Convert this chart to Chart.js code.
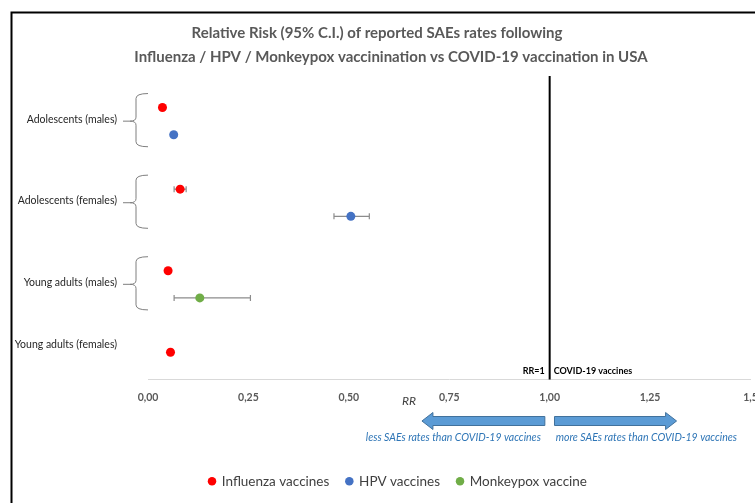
<!DOCTYPE html>
<html>
<head>
<meta charset="utf-8">
<script src="https://cdn.jsdelivr.net/npm/chart.js@4.4.1/dist/chart.umd.min.js"></script>
<style>
  html, body { margin: 0; padding: 0; background: #fff; }
  #wrap { position: relative; width: 755px; height: 503px; }
</style>
</head>
<body>
<div id="wrap"><canvas id="rrChart"></canvas></div>
<script>
const titleLines = [
    "Relative Risk (95% C.I.) of reported SAEs rates following",
    "Influenza / HPV / Monkeypox vaccinination vs COVID-19 vaccination in USA"
];
const groupLabels = ["Adolescents (males)", "Adolescents (females)", "Young adults (males)", "Young adults (females)"];

// RR point estimates and 95% C.I. per group (null = no estimate shown)
const influenzaRR   = [0.036, 0.080, 0.050, 0.056];
const influenzaLow  = [null, 0.065, null, null];
const influenzaHigh = [null, 0.095, null, null];
const hpvRR   = [0.064, 0.505, null, null];
const hpvLow  = [null, 0.463, null, null];
const hpvHigh = [null, 0.551, null, null];
const monkeypoxRR   = [null, null, 0.129, null];
const monkeypoxLow  = [null, null, 0.065, null];
const monkeypoxHigh = [null, null, 0.255, null];

const xTicks = [0, 0.25, 0.5, 0.75, 1, 1.25, 1.5];
const xTickLabels = ["0,00", "0,25", "0,50", "0,75", "1,00", "1,25", "1,5"];

const FONT = "Lato";

// each group takes 3 rows: influenza on the first, HPV / monkeypox on the second
const toPoints = (values, lows, highs, offset) => values
    .map((v, g) => v == null ? null : { x: v, y: g * 3 + offset, lo: lows[g], hi: highs[g] })
    .filter(Boolean);

const makeDataset = (label, color, points) => ({
    label,
    data: points,
    backgroundColor: color,
    borderColor: color,
    pointRadius: 4.5,
    pointHoverRadius: 4.5,
    borderWidth: 0,
});

const errorBars = {
    id: "errorBars",
    beforeDatasetsDraw(chart) {
        const { ctx, scales: { x, y } } = chart;
        ctx.save();
        ctx.strokeStyle = "#8c8c8c";
        ctx.lineWidth = 1.2;
        chart.data.datasets.forEach(ds => {
            ds.data.forEach(p => {
                if (p.lo == null) return;
                const py = y.getPixelForValue(p.y);
                const x0 = x.getPixelForValue(p.lo);
                const x1 = x.getPixelForValue(p.hi);
                ctx.beginPath();
                ctx.moveTo(x0, py); ctx.lineTo(x1, py);
                ctx.moveTo(x0, py - 3); ctx.lineTo(x0, py + 3);
                ctx.moveTo(x1, py - 3); ctx.lineTo(x1, py + 3);
                ctx.stroke();
            });
        });
        ctx.restore();
    }
};

const drawBrace = (ctx, xr, top, mid, bot) => {
    const xs = xr - 12;
    ctx.beginPath();
    ctx.moveTo(xr, top);
    ctx.quadraticCurveTo(xs, top, xs, top + 5);
    ctx.lineTo(xs, mid - 4);
    ctx.quadraticCurveTo(xs, mid, xs - 6, mid);
    ctx.lineTo(xs - 13, mid);
    ctx.moveTo(xs - 6, mid);
    ctx.quadraticCurveTo(xs, mid, xs, mid + 4);
    ctx.lineTo(xs, bot - 5);
    ctx.quadraticCurveTo(xs, bot, xr, bot);
    ctx.stroke();
};

const drawArrow = (ctx, tail, tip, cy) => {
    const dir = tip > tail ? 1 : -1;
    const neck = tip - dir * 11;
    ctx.beginPath();
    ctx.moveTo(tail, cy - 4.5);
    ctx.lineTo(neck, cy - 4.5);
    ctx.lineTo(neck, cy - 8.5);
    ctx.lineTo(tip, cy);
    ctx.lineTo(neck, cy + 8.5);
    ctx.lineTo(neck, cy + 4.5);
    ctx.lineTo(tail, cy + 4.5);
    ctx.closePath();
    ctx.fillStyle = "#5b9bd5";
    ctx.fill();
    ctx.strokeStyle = "#41719c";
    ctx.lineWidth = 1;
    ctx.stroke();
};

const decorations = {
    id: "decorations",
    afterDraw(chart) {
        const { ctx, chartArea, scales: { x, y } } = chart;
        ctx.save();

        // frame
        ctx.strokeStyle = "#000";
        ctx.lineWidth = 2;
        ctx.beginPath();
        ctx.moveTo(755, 12.5); ctx.lineTo(11.5, 12.5); ctx.lineTo(11.5, 503);
        ctx.stroke();

        // title
        ctx.fillStyle = "#595959";
        ctx.font = `bold 15px ${FONT}`;
        ctx.textAlign = "center";
        ctx.textBaseline = "middle";
        ctx.fillText(titleLines[0], 377, 33);
        ctx.fillText(titleLines[1], 391, 57);

        // RR = 1 reference line
        const x1 = x.getPixelForValue(1);
        ctx.strokeStyle = "#000";
        ctx.lineWidth = 2;
        ctx.beginPath();
        ctx.moveTo(x1, chartArea.top); ctx.lineTo(x1, chartArea.bottom);
        ctx.stroke();
        ctx.fillStyle = "#000";
        ctx.font = `bold 9px ${FONT}`;
        ctx.textAlign = "right";
        ctx.fillText("RR=1", x1 - 5, chartArea.bottom - 8);
        ctx.textAlign = "left";
        ctx.fillText("COVID-19 vaccines", x1 + 4, chartArea.bottom - 8);

        // group labels and braces
        ctx.strokeStyle = "#7f7f7f";
        ctx.lineWidth = 1;
        ctx.fillStyle = "#262626";
        ctx.font = `10.5px ${FONT}`;
        ctx.textAlign = "right";
        groupLabels.forEach((label, g) => {
            const first = y.getPixelForValue(g * 3);
            const second = y.getPixelForValue(g * 3 + 1);
            if (g < 3) {
                const mid = (first + second) / 2;
                drawBrace(ctx, chartArea.left, first - 14, mid, second + 12);
                ctx.fillText(label, chartArea.left - 31, mid - 2);
            } else {
                ctx.fillText(label, chartArea.left - 31, first - 8);
            }
        });

        // axis caption and direction arrows
        ctx.fillStyle = "#404040";
        ctx.font = `italic 12px ${FONT}`;
        ctx.textAlign = "center";
        ctx.fillText("RR", x.getPixelForValue(0.65), 401);

        drawArrow(ctx, x.getPixelForValue(0.988), x.getPixelForValue(0.682), 421);
        drawArrow(ctx, x.getPixelForValue(1.012), x.getPixelForValue(1.316), 421);

        ctx.fillStyle = "#2e75b6";
        ctx.font = `italic 10.5px ${FONT}`;
        ctx.textAlign = "right";
        ctx.fillText("less SAEs rates than COVID-19 vaccines", x.getPixelForValue(0.978), 438);
        ctx.textAlign = "left";
        ctx.fillText("more SAEs rates than COVID-19 vaccines", x.getPixelForValue(1.015), 438);

        ctx.restore();
    }
};

new Chart(document.getElementById("rrChart"), {
    type: "scatter",
    data: {
        datasets: [
            makeDataset("Influenza vaccines", "#ff0000", toPoints(influenzaRR, influenzaLow, influenzaHigh, 0)),
            makeDataset("HPV vaccines", "#4472c4", toPoints(hpvRR, hpvLow, hpvHigh, 1)),
            makeDataset("Monkeypox vaccine", "#70ad47", toPoints(monkeypoxRR, monkeypoxLow, monkeypoxHigh, 1)),
        ]
    },
    options: {
        responsive: true,
        maintainAspectRatio: false,
        animation: false,
        events: [],
        layout: { padding: { top: 76, left: 45, right: 4, bottom: 5 } },
        scales: {
            x: {
                min: 0,
                max: 1.5,
                grid: { display: false, drawTicks: false },
                border: { display: true, color: "#d9d9d9", width: 1 },
                afterBuildTicks: scale => { scale.ticks = xTicks.map(v => ({ value: v })); },
                ticks: {
                    padding: 12,
                    maxRotation: 0,
                    autoSkip: false,
                    color: "#595959",
                    font: { family: FONT, size: 10.5, weight: "bold" },
                    callback: v => xTickLabels[xTicks.indexOf(v)],
                },
                afterFit: scale => { scale.paddingRight = 0; scale.paddingLeft = 0; scale.height = 78; },
            },
            y: {
                reverse: true,
                min: -1.16,
                max: 10,
                grid: { display: false, drawTicks: false },
                border: { display: false },
                ticks: { display: false },
                afterFit: scale => { scale.width = 103; },
            }
        },
        plugins: {
            tooltip: { enabled: false },
            legend: {
                position: "bottom",
                labels: {
                    usePointStyle: true,
                    pointStyle: "circle",
                    boxWidth: 6,
                    boxHeight: 6,
                    padding: 17,
                    color: "#404040",
                    font: { family: FONT, size: 13.5 },
                }
            }
        }
    },
    plugins: [errorBars, decorations]
});
</script>
</body>
</html>
